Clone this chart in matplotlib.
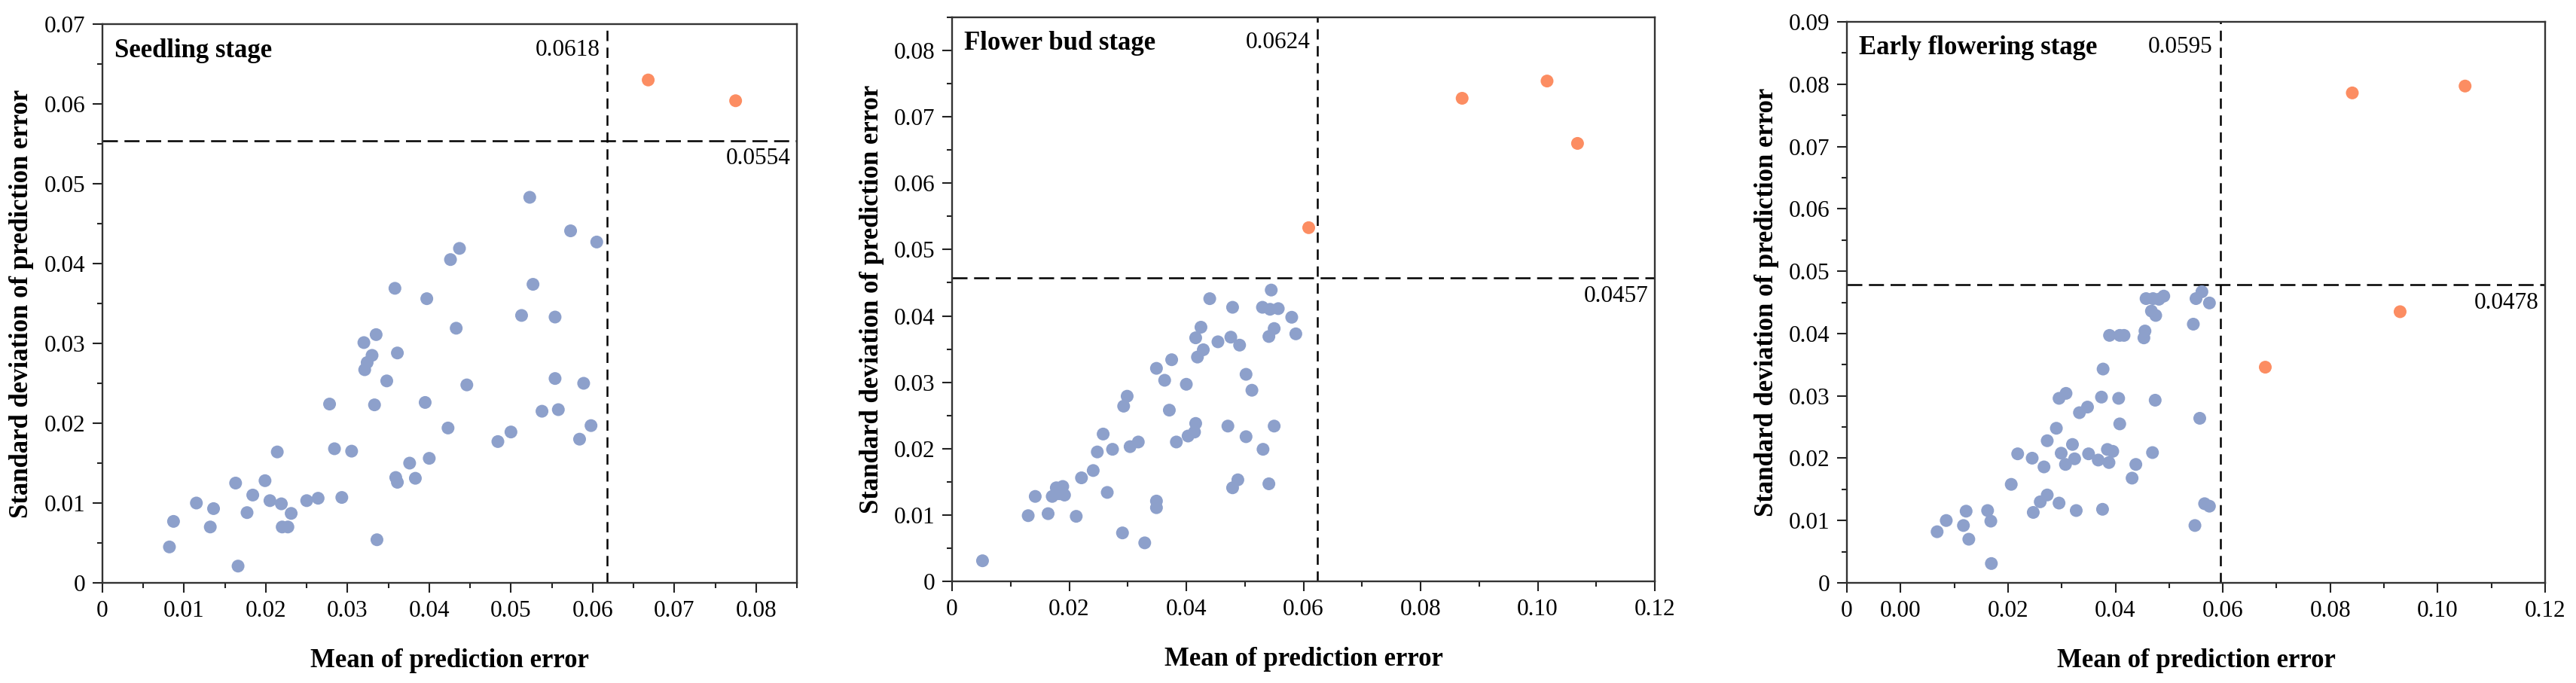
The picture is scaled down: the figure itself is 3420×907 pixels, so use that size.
import numpy as np
import matplotlib
matplotlib.use('Agg')
import matplotlib.pyplot as plt
from matplotlib.ticker import MultipleLocator
import matplotlib.transforms as mtransforms

plt.rcParams['font.family'] = ['Liberation Serif', 'DejaVu Serif']

# ---- data: (mean, std) of prediction error per stage ----
seed_x = [0.0082, 0.0087, 0.0115, 0.0136, 0.0132, 0.0163, 0.0166, 0.0177, 0.0184, 0.0199,
          0.0214, 0.0205, 0.0219, 0.0231, 0.0220, 0.0227, 0.0250, 0.0264, 0.0278, 0.0284,
          0.0293, 0.0305, 0.0320, 0.0335, 0.0330, 0.0324, 0.0321, 0.0333, 0.0336, 0.0348,
          0.0361, 0.0358, 0.0397, 0.0359, 0.0361, 0.0376, 0.0383, 0.0395, 0.0400, 0.0513,
          0.0554, 0.0527, 0.0433, 0.0446, 0.0423, 0.0554, 0.0589, 0.0538, 0.0558, 0.0598,
          0.0584, 0.0500, 0.0484, 0.0523, 0.0573, 0.0605, 0.0437, 0.0426]
seed_y = [0.0045, 0.0077, 0.0100, 0.0093, 0.0070, 0.0125, 0.0021, 0.0088, 0.0110, 0.0128,
          0.0164, 0.0103, 0.0099, 0.0087, 0.0070, 0.0070, 0.0103, 0.0106, 0.0224, 0.0168,
          0.0107, 0.0165, 0.0301, 0.0311, 0.0285, 0.0276, 0.0267, 0.0223, 0.0054, 0.0253,
          0.0288, 0.0369, 0.0356, 0.0132, 0.0126, 0.0150, 0.0131, 0.0226, 0.0156, 0.0335,
          0.0333, 0.0374, 0.0319, 0.0248, 0.0194, 0.0256, 0.0250, 0.0215, 0.0217, 0.0197,
          0.0180, 0.0189, 0.0177, 0.0483, 0.0441, 0.0427, 0.0419, 0.0405]
seed_out_x = [0.0668, 0.0775]
seed_out_y = [0.0630, 0.0604]

bud_x = [0.0052, 0.0130, 0.0142, 0.0164, 0.0171, 0.0178, 0.0183, 0.0189, 0.0192, 0.0212,
         0.0221, 0.0241, 0.0248, 0.0258, 0.0265, 0.0274, 0.0291, 0.0293, 0.0299, 0.0304,
         0.0318, 0.0329, 0.0349, 0.0349, 0.0349, 0.0363, 0.0371, 0.0375, 0.0383, 0.0400,
         0.0403, 0.0414, 0.0416, 0.0416, 0.0419, 0.0425, 0.0429, 0.0440, 0.0454, 0.0471,
         0.0476, 0.0479, 0.0479, 0.0488, 0.0491, 0.0502, 0.0502, 0.0512, 0.0531, 0.0530,
         0.0541, 0.0541, 0.0545, 0.0543, 0.0557, 0.0550, 0.0550, 0.0580, 0.0587]
bud_y = [0.0031, 0.0099, 0.0128, 0.0102, 0.0128, 0.0141, 0.0132, 0.0143, 0.0130, 0.0098,
         0.0156, 0.0167, 0.0195, 0.0222, 0.0134, 0.0199, 0.0073, 0.0264, 0.0279, 0.0203,
         0.0210, 0.0058, 0.0321, 0.0121, 0.0111, 0.0303, 0.0258, 0.0334, 0.0210, 0.0297,
         0.0219, 0.0225, 0.0238, 0.0367, 0.0338, 0.0383, 0.0349, 0.0426, 0.0361, 0.0234,
         0.0368, 0.0413, 0.0141, 0.0153, 0.0356, 0.0312, 0.0218, 0.0288, 0.0199, 0.0413,
         0.0147, 0.0369, 0.0439, 0.0410, 0.0411, 0.0381, 0.0234, 0.0398, 0.0373]
bud_out_x = [0.0609, 0.0871, 0.1016, 0.1068]
bud_out_y = [0.0533, 0.0728, 0.0754, 0.0660]

early_x = [0.0068, 0.0085, 0.0122, 0.0117, 0.0127, 0.0162, 0.0168, 0.0169, 0.0206, 0.0218,
           0.0245, 0.0247, 0.0260, 0.0267, 0.0273, 0.0273, 0.0290, 0.0295, 0.0295, 0.0308,
           0.0299, 0.0307, 0.0320, 0.0324, 0.0327, 0.0333, 0.0348, 0.0350, 0.0368, 0.0374,
           0.0377, 0.0376, 0.0385, 0.0388, 0.0395, 0.0389, 0.0408, 0.0416, 0.0406, 0.0408,
           0.0431, 0.0438, 0.0457, 0.0470, 0.0481, 0.0490, 0.0467, 0.0475, 0.0455, 0.0453,
           0.0550, 0.0561, 0.0575, 0.0545, 0.0474, 0.0557, 0.0469, 0.0566, 0.0575, 0.0548]
early_y = [0.0082, 0.0100, 0.0115, 0.0092, 0.0070, 0.0116, 0.0099, 0.0031, 0.0158, 0.0207,
           0.0200, 0.0113, 0.0130, 0.0186, 0.0141, 0.0228, 0.0248, 0.0128, 0.0296, 0.0304,
           0.0208, 0.0190, 0.0222, 0.0199, 0.0116, 0.0273, 0.0282, 0.0207, 0.0197, 0.0298,
           0.0343, 0.0118, 0.0214, 0.0193, 0.0211, 0.0397, 0.0397, 0.0397, 0.0296, 0.0255,
           0.0168, 0.0190, 0.0456, 0.0456, 0.0455, 0.0460, 0.0436, 0.0429, 0.0404, 0.0393,
           0.0456, 0.0467, 0.0449, 0.0415, 0.0293, 0.0264, 0.0209, 0.0127, 0.0123, 0.0092]
early_out_x = [0.0679, 0.0841, 0.0930, 0.1051]
early_out_y = [0.0346, 0.0786, 0.0435, 0.0797]

titles = ['Seedling stage', 'Flower bud stage', 'Early flowering stage']
vlines = [0.0618, 0.0624, 0.0595]
hlines = [0.0554, 0.0457, 0.0478]
xlims = [(0, 0.085), (0, 0.12), (-0.01, 0.12)]
ylims = [(0, 0.07), (0, 0.085), (0, 0.09)]
xticks = [[0, 0.01, 0.02, 0.03, 0.04, 0.05, 0.06, 0.07, 0.08],
          [0, 0.02, 0.04, 0.06, 0.08, 0.10, 0.12],
          [-0.01, 0, 0.02, 0.04, 0.06, 0.08, 0.10, 0.12]]
xticklabels = [['0', '0.01', '0.02', '0.03', '0.04', '0.05', '0.06', '0.07', '0.08'],
               ['0', '0.02', '0.04', '0.06', '0.08', '0.10', '0.12'],
               ['0', '0.00', '0.02', '0.04', '0.06', '0.08', '0.10', '0.12']]
xminor = [0.005, 0.01, 0.01]
yticks = [[0, 0.01, 0.02, 0.03, 0.04, 0.05, 0.06, 0.07],
          [0, 0.01, 0.02, 0.03, 0.04, 0.05, 0.06, 0.07, 0.08],
          [0, 0.01, 0.02, 0.03, 0.04, 0.05, 0.06, 0.07, 0.08, 0.09]]

blue = '#8DA0CB'
orange = '#FC8D62'

W, H = 3420, 907
fig = plt.figure(figsize=(W / 100, H / 100), dpi=100)

# axes boxes in pixels: left, right, top, bottom
boxes = [(136, 1058, 32, 774), (1264, 2197, 23, 772), (2452, 3379, 29, 774)]

data = [(seed_x, seed_y, seed_out_x, seed_out_y),
        (bud_x, bud_y, bud_out_x, bud_out_y),
        (early_x, early_y, early_out_x, early_out_y)]

for i in range(3):
    l, r, t, b = boxes[i]
    ax = fig.add_axes([l / W, 1 - b / H, (r - l) / W, (b - t) / H])
    wpx, hpx = r - l, b - t
    x, y, ox, oy = data[i]

    ax.axvline(vlines[i], color='black', lw=1.8, dashes=(5.5, 3.5), zorder=1)
    ax.axhline(hlines[i], color='black', lw=1.8, dashes=(8, 3.5), zorder=1)
    ax.scatter(x, y, s=150, color=blue, edgecolors='none', zorder=3)
    ax.scatter(ox, oy, s=150, color=orange, edgecolors='none', zorder=3)

    ax.set_xlim(*xlims[i])
    ax.set_ylim(*ylims[i])
    ax.set_xticks(xticks[i], xticklabels[i])
    ax.set_yticks(yticks[i], ['0'] + ['%.2f' % v for v in yticks[i][1:]])
    ax.xaxis.set_minor_locator(MultipleLocator(xminor[i]))
    ax.yaxis.set_minor_locator(MultipleLocator(0.005))
    ax.tick_params(which='both', direction='out', width=1.5, color='#222',
                   labelsize=22.5, top=False, right=False)
    ax.tick_params(which='major', length=9.5, pad=7)
    ax.tick_params(which='minor', length=5)
    for sp in ax.spines.values():
        sp.set_linewidth(1.7)
        sp.set_color('#333')

    ax.set_xlabel('Mean of prediction error', fontsize=25, fontweight='bold', va='center')
    ax.xaxis.set_label_coords(0.5, -103 / hpx)
    ax.set_ylabel('Standard deviation of prediction error', fontsize=25,
                  fontweight='bold', va='center')
    ax.yaxis.set_label_coords(-107 / wpx, 0.5)

    ax.text(16 / wpx, 1 - 35 / hpx, titles[i], transform=ax.transAxes,
            fontsize=25, fontweight='bold', ha='left', va='center')

    tr = mtransforms.blended_transform_factory(ax.transData, ax.transAxes)
    ax.text(vlines[i] - 10 / wpx * (xlims[i][1] - xlims[i][0]), 1 - 34 / hpx,
            '%.4f' % vlines[i], transform=tr, fontsize=22.5, ha='right', va='center')
    tr2 = mtransforms.blended_transform_factory(ax.transAxes, ax.transData)
    ax.text(1 - 8 / wpx, hlines[i] - 24 / hpx * (ylims[i][1] - ylims[i][0]),
            '%.4f' % hlines[i], transform=tr2, fontsize=22.5, ha='right', va='center')

fig.savefig('out.png', dpi=100)
